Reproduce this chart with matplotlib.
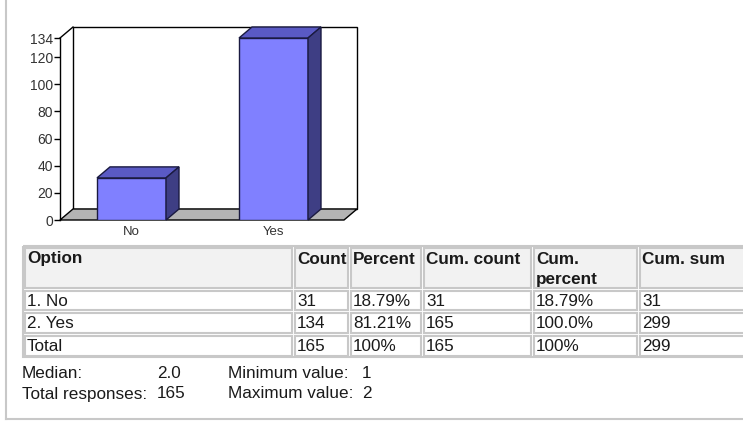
import matplotlib.pyplot as plt
from matplotlib.patches import Polygon, Rectangle

plt.rcParams["font.family"] = ["Liberation Sans", "DejaVu Sans"]

# chart data
options = ["No", "Yes"]
counts = [31, 134]
y_ticks = [0, 20, 40, 60, 80, 100, 120, 134]

# frequency table
col_labels = ["Option", "Count", "Percent", "Cum. count", "Cum.\npercent", "Cum. sum"]
row_option = ["1. No", "2. Yes", "Total"]
row_count = ["31", "134", "165"]
row_percent = ["18.79%", "81.21%", "100%"]
row_cum_count = ["31", "165", "165"]
row_cum_percent = ["18.79%", "100.0%", "100%"]
row_cum_sum = ["31", "299", "299"]

# summary
median = 2.0
total_responses = 165
min_value = 1
max_value = 2

W, H = 743, 421
fig = plt.figure(figsize=(W / 100, H / 100), dpi=100)
fig.patch.set_facecolor("white")

# page overlay in pixel coords (table, stats, frame)
page = fig.add_axes([0, 0, 1, 1], zorder=0)
page.set_xlim(0, W)
page.set_ylim(H, 0)
page.axis("off")

border = "#c8c8c8"
page.plot([6, 6], [0, 419], color=border, lw=1.5)
page.plot([6, W], [419, 419], color=border, lw=1.5)

col_x = [23, 293, 349, 422, 532, 638, 746]
row_y = [246, 289, 311, 334, 357]
columns = [row_option, row_count, row_percent, row_cum_count, row_cum_percent, row_cum_sum]
fs = 12.3
txt = "#1a1a1a"

page.add_patch(Rectangle((col_x[0], row_y[0]), col_x[-1] - col_x[0], row_y[-1] - row_y[0],
                         fill=False, edgecolor=border, lw=1.5))
for c, label in enumerate(col_labels):
    x0, x1 = col_x[c], col_x[c + 1]
    # header cell
    page.add_patch(Rectangle((x0 + 1.5, row_y[0] + 1.5), x1 - x0 - 3, row_y[1] - row_y[0] - 3,
                             facecolor="#f2f2f2", edgecolor=border, lw=1.5))
    page.text(x0 + 4, row_y[0] + 5.5, label, fontsize=fs, fontweight="bold",
              va="top", ha="left", color=txt, linespacing=1.45)
    for r, val in enumerate(columns[c]):
        y0, y1 = row_y[r + 1], row_y[r + 2]
        page.add_patch(Rectangle((x0 + 1.5, y0 + 1.5), x1 - x0 - 3, y1 - y0 - 3,
                                 facecolor="white", edgecolor=border, lw=1.5))
        page.text(x0 + 4, (y0 + y1) / 2 + 1, val, fontsize=fs, va="center", ha="left",
                  color=txt)

stats = [
    ("Median:", f"{median:.1f}", "Minimum value:", str(min_value), 373),
    ("Total responses:", str(total_responses), "Maximum value:", str(max_value), 394),
]
for lab1, v1, lab2, v2, y in stats:
    page.text(22, y, lab1, fontsize=fs, va="center", color=txt)
    page.text(157, y, v1, fontsize=fs, va="center", color=txt)
    page.text(228, y, lab2, fontsize=fs, va="center", color=txt)
    page.text(362, y, v2, fontsize=fs, va="center", color=txt)

# pseudo-3D bar chart
ax_l, ax_r, ax_b, ax_t = 60, 357, 220, 27
ax = fig.add_axes([ax_l / W, (H - ax_b) / H, (ax_r - ax_l) / W, (ax_b - ax_t) / H], zorder=2)
ax.patch.set_alpha(0)

spacing = 142.0
px_per_unit = 1.358
dx = 13 / spacing
dy = 11 / px_per_unit
x0 = -(131.5 - ax_l) / spacing
x1 = x0 + (ax_r - ax_l) / spacing
y_top = max(y_ticks) + dy
ax.set_xlim(x0, x1)
ax.set_ylim(0, y_top)

for s in ["top", "right", "bottom"]:
    ax.spines[s].set_visible(False)
ax.spines["left"].set_bounds(0, max(y_ticks))
ax.spines["left"].set_linewidth(1)

# back wall and floor
ax.add_patch(Rectangle((x0 + dx, dy), x1 - x0 - dx, y_top - dy, facecolor="white",
                       edgecolor="black", lw=1, zorder=1, clip_on=False))
ax.add_patch(Polygon([(x0, 0), (x1 - dx, 0), (x1, dy), (x0 + dx, dy)], closed=True,
                     facecolor="#b4b4b4", edgecolor="black", lw=1, zorder=2, clip_on=False))
ax.plot([x0, x0 + dx], [max(y_ticks), y_top], color="black", lw=1, clip_on=False)

front, top_c, side_c, edge = "#8080ff", "#5a5ac4", "#3e3e84", "#1a1a40"
width = 69 / spacing
xs = list(range(len(options)))
ax.bar(xs, counts, width, color=front, edgecolor=edge, lw=1, zorder=4)
for x, h in zip(xs, counts):
    l, r = x - width / 2, x + width / 2
    ax.add_patch(Polygon([(l, h), (r, h), (r + dx, h + dy), (l + dx, h + dy)], closed=True,
                         facecolor=top_c, edgecolor=edge, lw=1, zorder=4, clip_on=False))
    ax.add_patch(Polygon([(r, 0), (r + dx, dy), (r + dx, h + dy), (r, h)], closed=True,
                         facecolor=side_c, edgecolor=edge, lw=1, zorder=4, clip_on=False))

ax.set_yticks(y_ticks)
ax.set_yticklabels([str(t) for t in y_ticks])
ax.tick_params(axis="y", direction="out", length=4, width=1, pad=1, labelsize=10,
               labelcolor="#333333")
ax.set_xticks(xs)
ax.set_xticklabels(options)
ax.tick_params(axis="x", length=0, pad=4, labelsize=9.5, labelcolor="#333333")

fig.savefig("out.png", dpi=100)
